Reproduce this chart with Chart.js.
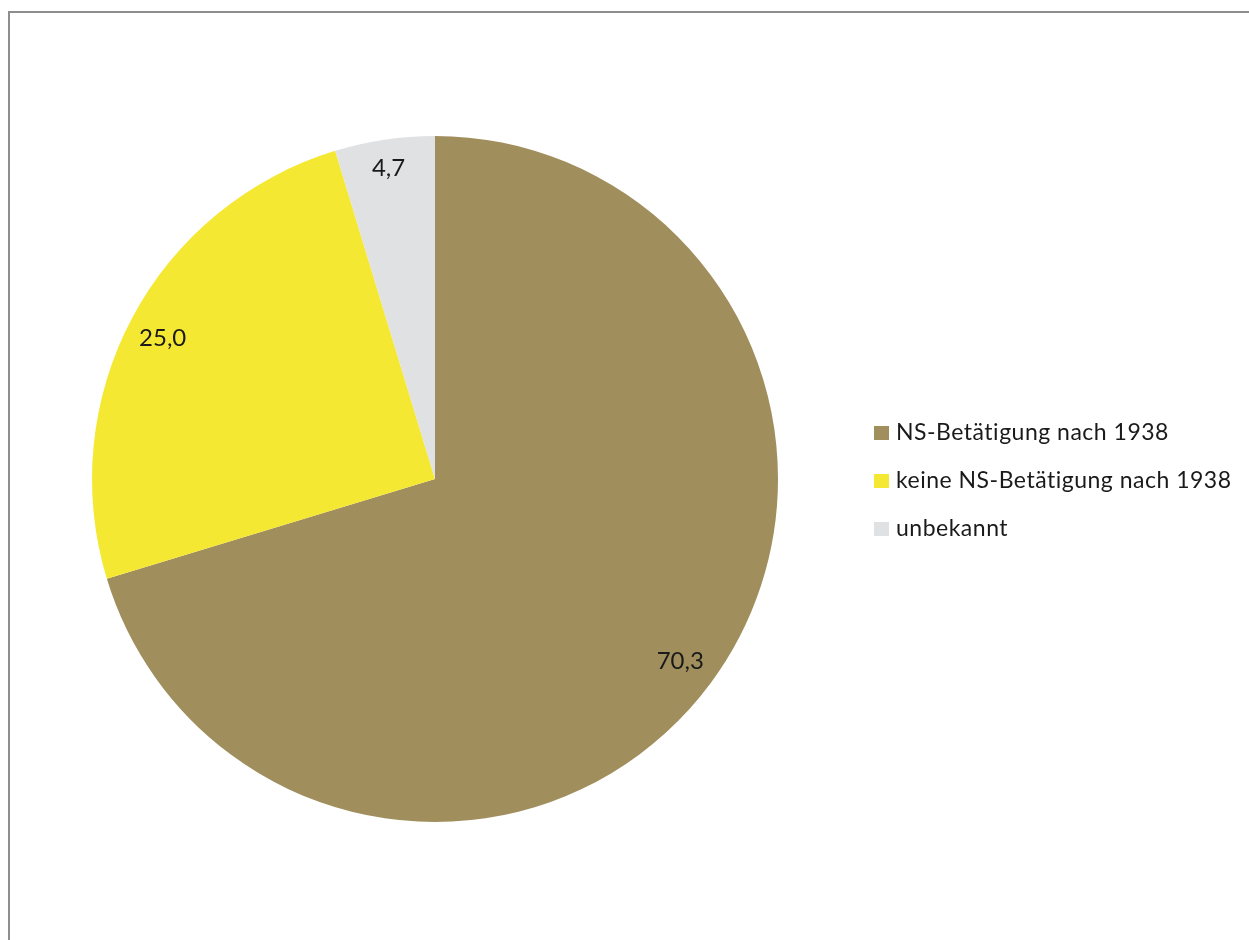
<!DOCTYPE html>
<html>
<head>
<meta charset="utf-8">
<script src="https://cdn.jsdelivr.net/npm/chart.js@4"></script>
<style>
  html, body { margin: 0; padding: 0; background: #fff; }
  #wrap { position: relative; width: 1249px; height: 940px; overflow: hidden; }
  #frame { position: absolute; left: 8px; top: 11px; width: 1300px; height: 1000px;
           border-left: 2px solid #8e8e8e; border-top: 2px solid #8e8e8e; box-sizing: border-box; }
  canvas { position: absolute; left: 0; top: 0; }
</style>
</head>
<body>
<div id="wrap">
  <div id="frame"></div>
  <canvas id="c" width="1249" height="940"></canvas>
</div>
<script>
const categories = ["NS-Betätigung nach 1938", "keine NS-Betätigung nach 1938", "unbekannt"];
const values = [70.3, 25.0, 4.7];
const valueLabels = ["70,3", "25,0", "4,7"];
const colors = ["#A08E5C", "#F5E833", "#E0E1E3"];

const labelPlugin = {
  id: 'sliceLabels',
  afterDatasetsDraw(chart) {
    const ctx = chart.ctx;
    const meta = chart.getDatasetMeta(0);
    ctx.save();
    ctx.font = '24px Lato';
    ctx.fillStyle = '#1a1a1a';
    ctx.textAlign = 'center';
    ctx.textBaseline = 'middle';
    meta.data.forEach((arc, i) => {
      const p = arc.getProps(['x', 'y', 'startAngle', 'endAngle', 'outerRadius'], true);
      const mid = (p.startAngle + p.endAngle) / 2;
      const r = p.outerRadius * (i === 2 ? 0.92 : 0.89);
      const dy = i === 1 ? 3 : 1;
      ctx.fillText(valueLabels[i], p.x + Math.cos(mid) * r - (i === 1 ? 3 : 0), p.y + Math.sin(mid) * r + dy);
    });
    ctx.restore();
  }
};

const legendPlugin = {
  id: 'customLegend',
  afterDraw(chart) {
    const ctx = chart.ctx;
    ctx.save();
    ctx.font = '23px Lato';
    try { ctx.letterSpacing = '0.5px'; } catch (e) {}
    ctx.textBaseline = 'middle';
    chart.data.labels.forEach((lab, i) => {
      const y = 433 + i * 48;
      ctx.fillStyle = chart.data.datasets[0].backgroundColor[i];
      ctx.fillRect(874, y - 7, 15, 14);
      ctx.fillStyle = '#1a1a1a';
      ctx.fillText(lab, 896, y);
    });
    ctx.restore();
  }
};

new Chart(document.getElementById('c'), {
  type: 'pie',
  data: {
    labels: categories,
    datasets: [{ data: values, backgroundColor: colors, borderWidth: 0 }]
  },
  options: {
    responsive: false,
    animation: false,
    layout: { padding: { left: 92, right: 471, top: 136, bottom: 118 } },
    plugins: { legend: { display: false }, tooltip: { enabled: false } }
  },
  plugins: [labelPlugin, legendPlugin]
});
</script>
</body>
</html>
